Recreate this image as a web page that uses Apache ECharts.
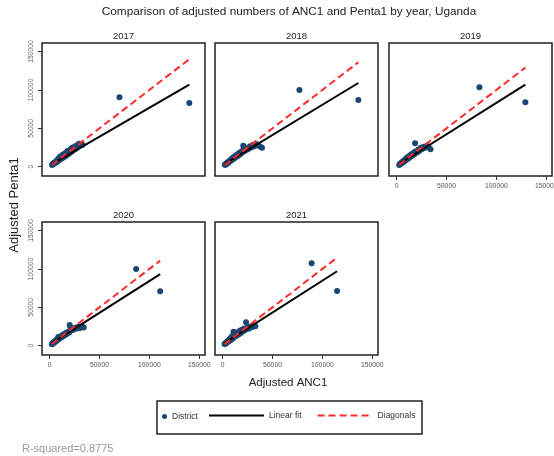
<!DOCTYPE html>
<html>
<head>
<meta charset="utf-8">
<style>
  html, body { margin: 0; padding: 0; background: #fff; }
  #main { width: 554px; height: 456px; }
</style>
<script src="https://cdn.jsdelivr.net/npm/echarts@6/dist/echarts.min.js"></script>
</head>
<body>
<div id="main"></div>
<script>
// data (adjusted ANC1, adjusted Penta1) per district
const years = ['2017', '2018', '2019', '2020', '2021'];
const tickValues = [0, 50000, 100000, 150000];

const district2017 = [
  [2500, 2100], [3200, 3500], [4000, 3600], [4500, 5000], [5200, 4600], [5800, 6200],
  [6300, 5500], [7000, 7400], [7500, 6600], [8000, 9200], [8600, 7900], [9100, 10800],
  [9500, 8700], [10200, 12500], [10800, 9800], [11300, 11900], [12000, 13800], [12500, 10900],
  [13100, 15600], [13600, 12200], [14200, 14500], [15000, 16800], [15600, 13400], [16200, 17900],
  [17000, 15200], [17800, 20400], [18500, 16300], [19200, 18600], [20000, 17700], [21000, 22500],
  [21800, 19400], [22500, 24800], [23400, 21000], [24500, 25600], [25500, 22800], [26800, 27500],
  [28000, 24900], [29500, 29800], [31000, 27600], [33000, 28500],
  [70000, 90500], [140000, 83000]
];
const district2018 = [
  [2200, 2400], [3000, 2700], [3600, 4100], [4300, 3900], [5000, 5600], [5600, 5000],
  [6200, 6900], [6900, 6300], [7500, 8300], [8200, 7600], [8800, 9700], [9400, 9000],
  [10100, 11200], [10700, 10100], [11400, 12600], [12100, 11300], [12800, 14000], [13500, 12600],
  [14300, 15500], [15100, 14100], [16000, 17200], [16800, 15600], [17700, 18800], [18600, 17200],
  [19600, 20600], [20700, 27200], [21500, 19800], [22600, 22900], [23800, 21600], [25000, 24300],
  [26300, 23500], [27500, 26800], [29000, 25400], [30500, 28600], [32000, 26800], [33800, 29500],
  [35500, 27800], [37500, 26200], [39500, 24800],
  [77000, 100000], [136000, 87000]
];
const district2019 = [
  [2600, 2300], [3300, 3600], [4000, 3500], [4700, 5300], [5400, 4800], [6100, 6700],
  [6800, 6000], [7400, 8100], [8100, 7300], [8800, 9800], [9500, 8800], [10200, 11600],
  [10900, 10100], [11600, 12800], [12400, 11500], [13200, 14600], [14000, 13000], [14900, 16200],
  [15800, 14500], [16800, 18000], [17700, 16300], [18500, 30500], [18800, 19700], [20600, 18500],
  [21800, 22400], [23000, 20800], [24300, 24600], [25700, 23000], [27200, 26000], [28800, 24600],
  [30400, 27200], [32200, 25300], [34000, 22800],
  [83000, 103500], [129000, 84000]
];
const district2020 = [
  [2300, 2000], [2900, 3100], [3500, 3000], [4100, 4500], [4800, 4200], [5400, 5900],
  [6100, 5400], [6700, 7300], [7400, 6700], [8000, 8800], [8700, 11500], [9300, 8600],
  [10000, 10900], [10700, 9900], [11400, 12300], [12200, 11100], [13000, 13900], [13800, 12700],
  [14700, 15400], [15600, 14100], [16600, 16900], [17600, 15600], [18700, 18300], [19600, 17200],
  [20100, 27000], [21000, 24000], [21800, 19800], [23000, 22100], [24300, 21000], [25700, 23500],
  [27200, 22300], [28800, 24600], [30500, 23200], [32500, 24900], [34200, 23800],
  [86700, 100000], [110800, 71000]
];
const district2021 = [
  [2000, 2300], [2700, 2500], [3300, 3900], [3900, 3400], [4600, 5400], [5200, 4700],
  [5900, 6800], [6500, 6000], [7200, 8600], [7800, 7200], [8500, 10800], [9100, 8500],
  [9800, 12600], [10400, 9700], [11000, 18300], [11600, 11300], [12300, 14800], [13000, 12400],
  [13800, 16400], [14600, 13500], [15500, 17600], [16400, 15000], [17300, 19500], [18300, 16600],
  [19300, 20800], [20400, 18800], [21500, 22500], [22600, 20600], [23500, 30500], [24600, 23300],
  [26000, 22000], [27500, 25100], [29200, 24200], [31000, 26300], [32800, 25300],
  [89200, 107300], [114700, 71400]
];

// linear fit (Penta1 on ANC1) at smallest and largest ANC1 of each year
const fitLow = [3500, 3800, 3500, 3400, 3300];
const fitHigh = [107000, 109000, 106900, 93200, 97000];
const rSquared = '0.8775';

const districts = [district2017, district2018, district2019, district2020, district2021];

const font = 'Liberation Sans, Arial, sans-serif';
const panels = [
  { left: 42, top: 43, showX: false, showY: true },
  { left: 215, top: 43, showX: false, showY: false },
  { left: 389, top: 43, showX: true, showY: false },
  { left: 42, top: 222, showX: true, showY: true },
  { left: 215, top: 222, showX: true, showY: false },
];
const boxW = 163;
const boxH = 133;

const grid = [];
const xAxis = [];
const yAxis = [];
const series = [];
const graphic = [];

panels.forEach((p, i) => {
  grid.push({
    left: p.left, top: p.top, width: boxW, height: boxH,
    show: true, borderColor: '#222', borderWidth: 1.5, backgroundColor: '#fff',
    outerBoundsMode: 'none', containLabel: false,
  });
  xAxis.push({
    gridIndex: i, type: 'value', min: -7600, max: 155700,
    splitLine: { show: false },
    axisLine: { show: false, onZero: false },
    axisTick: { show: p.showX, inside: false, customValues: tickValues, length: 4, lineStyle: { color: '#333', width: 1 } },
    axisLabel: {
      show: p.showX, customValues: tickValues, fontSize: 6.8, color: '#555', margin: 7, fontFamily: font,
      formatter: (v) => String(v),
    },
  });
  yAxis.push({
    gridIndex: i, type: 'value', min: -12100, max: 161100,
    splitLine: { show: false },
    axisLine: { show: false, onZero: false },
    axisTick: { show: p.showY, inside: false, customValues: tickValues, length: 4, lineStyle: { color: '#333', width: 1 } },
    axisLabel: {
      show: p.showY, customValues: tickValues, fontSize: 6.8, color: '#555', margin: 7, rotate: 90, fontFamily: font,
      formatter: (v) => String(v),
    },
  });

  const pts = districts[i];
  const xs = pts.map((d) => d[0]);
  const minX = Math.min(...xs);
  const maxX = Math.max(...xs);

  series.push({
    name: 'District', type: 'scatter', xAxisIndex: i, yAxisIndex: i,
    data: pts, symbolSize: 6, itemStyle: { color: '#1a476f', opacity: 1 },
    z: 2,
  });
  series.push({
    name: 'Linear fit', type: 'line', xAxisIndex: i, yAxisIndex: i,
    data: [[minX, fitLow[i]], [maxX, fitHigh[i]]],
    symbol: 'none', lineStyle: { color: '#000', width: 2 }, itemStyle: { color: '#000' },
    z: 3,
  });
  series.push({
    name: 'Diagonals', type: 'line', xAxisIndex: i, yAxisIndex: i,
    data: [[minX, minX], [maxX, maxX]],
    symbol: 'none', lineStyle: { color: '#ff2a2a', width: 2, type: [7, 4] }, itemStyle: { color: '#ff2a2a' },
    z: 4,
  });

  graphic.push({
    type: 'text', x: p.left + boxW / 2, y: p.top - 7,
    style: { text: years[i], fontSize: 9.5, fontFamily: font, fill: '#222', align: 'center', verticalAlign: 'middle' },
  });
});

graphic.push(
  {
    type: 'text', x: 289, y: 12,
    style: { text: 'Comparison of adjusted numbers of ANC1 and Penta1 by year, Uganda', fontSize: 11.8, fontFamily: font, fill: '#222', align: 'center', verticalAlign: 'middle' },
  },
  {
    type: 'text', x: 288, y: 383,
    style: { text: 'Adjusted ANC1', fontSize: 11.5, fontFamily: font, fill: '#222', align: 'center', verticalAlign: 'middle' },
  },
  {
    type: 'text', x: 14, y: 205, rotation: Math.PI / 2,
    style: { text: 'Adjusted Penta1', fontSize: 13, fontFamily: font, fill: '#222', align: 'center', verticalAlign: 'middle' },
  },
  {
    type: 'rect', shape: { x: 157, y: 401, width: 265, height: 33 },
    style: { fill: 'none', stroke: '#222', lineWidth: 1.5 },
  },
  {
    type: 'text', x: 22, y: 449,
    style: { text: 'R-squared=' + rSquared, fontSize: 11, fontFamily: font, fill: '#999', align: 'left', verticalAlign: 'middle' },
  }
);

const myChart = echarts.init(document.getElementById('main'));
myChart.setOption({
  animation: false,
  backgroundColor: '#fff',
  grid,
  xAxis,
  yAxis,
  series,
  graphic,
  legend: [
    {
      data: ['District'], icon: 'circle', left: 162, top: 412, padding: 0,
      itemWidth: 5, itemHeight: 5, selectedMode: false,
      textStyle: { fontSize: 8.5, color: '#333', fontFamily: font },
    },
    {
      data: ['Linear fit', 'Diagonals'], left: 208, top: 411, padding: 0,
      itemWidth: 55, itemHeight: 8, itemGap: 15, selectedMode: false,
      itemStyle: { color: 'rgba(0,0,0,0)', borderColor: 'rgba(0,0,0,0)', borderWidth: 0 },
      textStyle: { fontSize: 8.5, color: '#333', fontFamily: font },
    },
  ],
});
</script>
</body>
</html>
